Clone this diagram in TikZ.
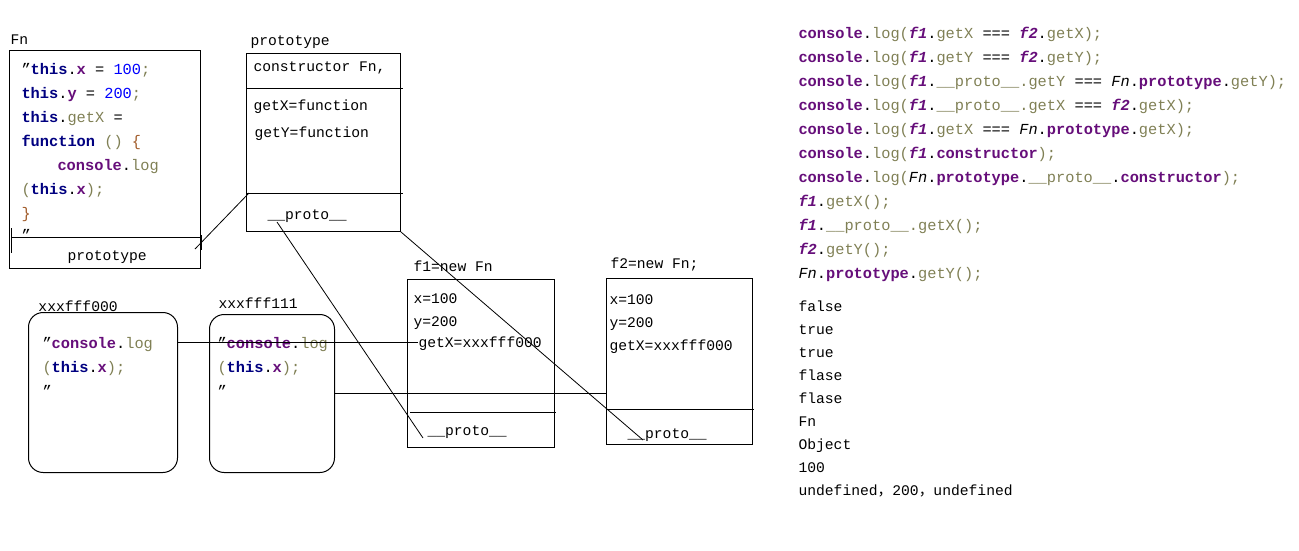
\documentclass[tikz,border=0pt]{standalone}
\usepackage{fontspec}
\setmainfont{Liberation Mono}
\setmonofont{Liberation Mono}
\newfontfamily\cjk{Noto Sans CJK SC}
\definecolor{kwp}{RGB}{102,14,122}
\definecolor{kwn}{RGB}{0,0,128}
\definecolor{olv}{RGB}{128,128,85}
\definecolor{numb}{RGB}{0,0,255}
\definecolor{brc}{RGB}{160,90,40}
\newcommand\Kp[1]{\textbf{\color{kwp}#1}}
\newcommand\Kn[1]{\textbf{\color{kwn}#1}}
\newcommand\Ol[1]{{\color{olv}#1}}
\newcommand\Nm[1]{{\color{numb}#1}}
\newcommand\Fv[1]{\textbf{\textit{\color{kwp}#1}}}
\newcommand\Fi[1]{\textit{#1}}
\newcommand\Br[1]{{\color{brc}#1}}
\begin{document}
\begin{tikzpicture}[x=0.75pt,y=-0.75pt,line width=0.75pt,
  lbl/.style={inner sep=0pt,anchor=base west,font=\fontsize{11}{13}\selectfont},
  code/.style={inner sep=0pt,anchor=base west,font=\fontsize{11.5}{14}\selectfont},
  box/.style={draw,inner sep=0pt,anchor=north west},
  rbox/.style={draw,inner sep=0pt,anchor=north west,rounded corners=11pt},
  wire/.style={draw,line width=0.6pt}]
\useasboundingbox (0,0) rectangle (1299,550);

% ---------- Fn box ----------
\node[lbl] (fnlbl) at (10,44) {Fn};
\node[box,minimum width={191*0.75pt},minimum height={218*0.75pt}] (fn) at (9,50) {};
\node[code] (fn1) at (21,74) {”\Kn{this}.\Kp{x} = \Nm{100}\Ol{;}};
\node[code] (fn2) at (21,98) {\Kn{this}.\Kp{y} = \Nm{200}\Ol{;}};
\node[code] (fn3) at (21,122) {\Kn{this}.\Ol{getX} =};
\node[code] (fn4) at (21,146) {\Kn{function} \Ol{()} \Br{\{}};
\node[code] (fn5) at (57,170) {\Kp{console}.\Ol{log}};
\node[code] (fn6) at (21,194) {\Ol{(}\Kn{this}.\Kp{x}\Ol{);}};
\node[code] (fn7) at (21,218) {\Br{\}}};
\node[code] (fn8) at (21,240) {”};
\draw (11,237) -- (201,237);
\draw (11,228) -- (11,253);
\draw (201,235) -- (201,250);
\node[lbl] (fnproto) at (67,260) {prototype};
\coordinate (fnprotoend) at (195,249);

% ---------- prototype box ----------
\node[lbl] (plbl) at (250,45) {prototype};
\node[box,minimum width={154*0.75pt},minimum height={178*0.75pt}] (proto) at (246,53) {};
\draw (246,88) -- (403,88);
\draw (246,193) -- (403,193);
\coordinate (pdiv) at (249,193);
\node[lbl] (pc) at (253,71) {constructor Fn,};
\node[lbl] (pgx) at (253,110) {getX=function};
\node[lbl] (pgy) at (254,137) {getY=function};
\node[lbl] (ppr) at (267,219) {\_\_proto\_\_};
\coordinate (pprstart) at (277,222);

% ---------- f1 box ----------
\node[lbl] (f1lbl) at (413,271) {f1=new Fn};
\node[box,minimum width={147*0.75pt},minimum height={168*0.75pt}] (f1) at (407,279) {};
\draw (410,412) -- (556,412);
\node[lbl] (f1x) at (413,303) {x=100};
\node[lbl] (f1y) at (413,326) {y=200};
\node[lbl] (f1g) at (418,347) {getX=xxxfff000};
\node[lbl] (f1pr) at (427,435) {\_\_proto\_\_};
\coordinate (f1prend) at (423,438);

% ---------- f2 box ----------
\node[lbl] (f2lbl) at (610,268) {f2=new Fn;};
\node[box,minimum width={146*0.75pt},minimum height={166*0.75pt}] (f2) at (606,278) {};
\draw (606,409) -- (754,409);
\node[lbl] (f2x) at (609,304) {x=100};
\node[lbl] (f2y) at (609,327) {y=200};
\node[lbl] (f2g) at (609,350) {getX=xxxfff000};
\node[lbl] (f2pr) at (627,438) {\_\_proto\_\_};
\coordinate (f2prend) at (643,440);

% ---------- xxxfff000 ----------
\node[lbl] (x0lbl) at (38,311) {xxxfff000};
\node[rbox,minimum width={149*0.75pt},minimum height={160*0.75pt}] (x0) at (28,312) {};
\node[code] (x01) at (42,348) {”\Kp{console}.\Ol{log}};
\node[code] (x02) at (42,372) {\Ol{(}\Kn{this}.\Kp{x}\Ol{);}};
\node[code] (x03) at (42,396) {”};
\coordinate (x0out) at (178,342);

% ---------- xxxfff111 ----------
\node[lbl] (x1lbl) at (218,308) {xxxfff111};
\node[rbox,minimum width={125*0.75pt},minimum height={158*0.75pt}] (x1) at (209,314) {};
\node[code] (x11) at (217,348) {”\Kp{console}.\Ol{log}};
\node[code] (x12) at (217,372) {\Ol{(}\Kn{this}.\Kp{x}\Ol{);}};
\node[code] (x13) at (217,396) {”};

% ---------- connectors ----------
\draw[wire] (fnprotoend) -- (pdiv);
\draw[wire] (pprstart) -- (f1prend);
\draw[wire] (proto.south east) -- (f2prend);
\draw[wire] (x0out) -- (x0out -| f1g.west);
\draw[wire] (x1.east) -- (x1.east -| f2.west);

% ---------- right code ----------
\node[code] (r1) at (798,38) {\Kp{console}.\Ol{log(}\Fv{f1}.\Ol{getX} === \Fv{f2}.\Ol{getX);}};
\node[code] (r2) at (798,62) {\Kp{console}.\Ol{log(}\Fv{f1}.\Ol{getY} === \Fv{f2}.\Ol{getY);}};
\node[code] (r3) at (798,86) {\Kp{console}.\Ol{log(}\Fv{f1}.\Ol{\_\_proto\_\_.getY} === \Fi{Fn}.\Kp{prototype}.\Ol{getY);}};
\node[code] (r4) at (798,110) {\Kp{console}.\Ol{log(}\Fv{f1}.\Ol{\_\_proto\_\_.getX} === \Fv{f2}.\Ol{getX);}};
\node[code] (r5) at (798,134) {\Kp{console}.\Ol{log(}\Fv{f1}.\Ol{getX} === \Fi{Fn}.\Kp{prototype}.\Ol{getX);}};
\node[code] (r6) at (798,158) {\Kp{console}.\Ol{log(}\Fv{f1}.\Kp{constructor}\Ol{);}};
\node[code] (r7) at (798,182) {\Kp{console}.\Ol{log(}\Fi{Fn}.\Kp{prototype}.\Ol{\_\_proto\_\_}.\Kp{constructor}\Ol{);}};
\node[code] (r8) at (798,206) {\Fv{f1}.\Ol{getX();}};
\node[code] (r9) at (798,230) {\Fv{f1}.\Ol{\_\_proto\_\_.getX();}};
\node[code] (r10) at (798,254) {\Fv{f2}.\Ol{getY();}};
\node[code] (r11) at (798,278) {\Fi{Fn}.\Kp{prototype}.\Ol{getY();}};

% ---------- results ----------
\node[lbl] (o1) at (798,311) {false};
\node[lbl] (o2) at (798,334) {true};
\node[lbl] (o3) at (798,357) {true};
\node[lbl] (o4) at (798,380) {flase};
\node[lbl] (o5) at (798,403) {flase};
\node[lbl] (o6) at (798,426) {Fn};
\node[lbl] (o7) at (798,449) {Object};
\node[lbl] (o8) at (798,472) {100};
\node[lbl] (o9) at (798,495) {undefined{\cjk ，}200{\cjk ，}undefined};
\end{tikzpicture}
\end{document}
